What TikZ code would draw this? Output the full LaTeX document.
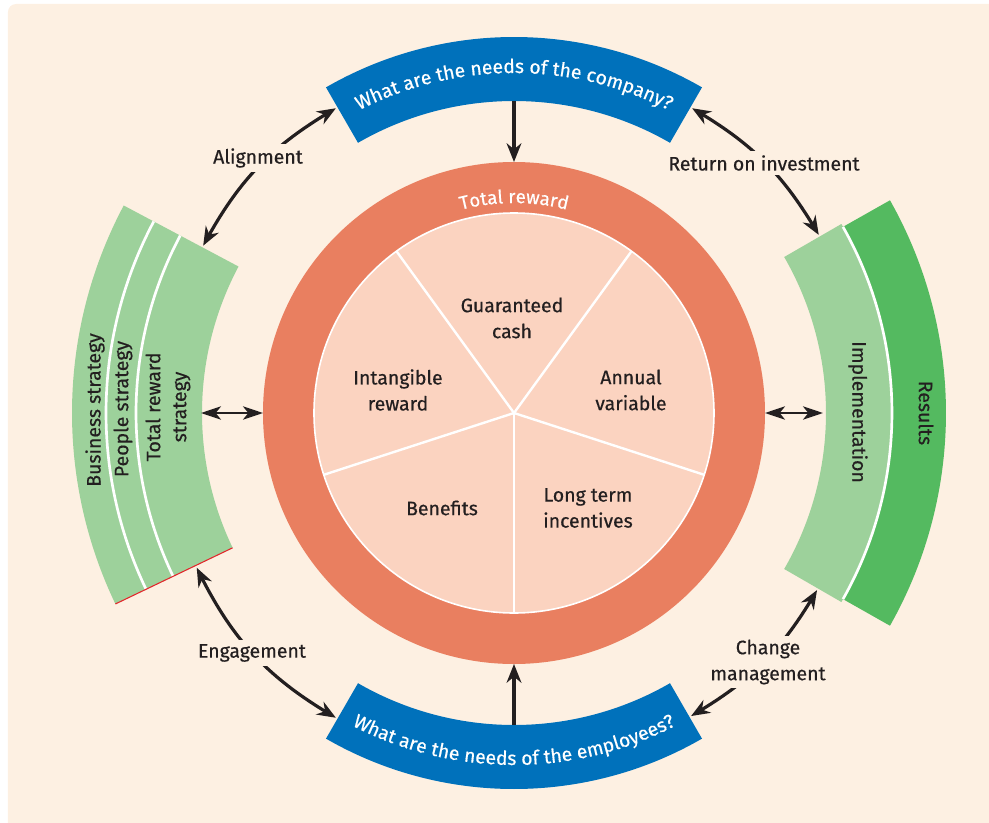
\documentclass[tikz,border=0pt]{standalone}
\usepackage{fontspec}
\setmainfont{Fira Sans}[FakeBold=0.5]
\usetikzlibrary{arrows.meta,bending,decorations.text}
\definecolor{paper}{HTML}{FDF0E2}
\definecolor{ringorange}{HTML}{E97F60}
\definecolor{piefill}{HTML}{FBD3C0}
\definecolor{bannerblue}{HTML}{0071BB}
\definecolor{palegreen}{HTML}{9DD19B}
\definecolor{deepgreen}{HTML}{54BA60}
\definecolor{ink}{HTML}{231F20}
\definecolor{edgered}{HTML}{E3262B}
\newcommand\bannerfont{\fontsize{14.5}{16}\selectfont\color{white}}
\newcommand\ringfont{\fontsize{14}{16}\selectfont\color{white}}
\begin{document}
\begin{tikzpicture}[x=0.75pt,y=0.75pt,
  lbl/.style={font=\fontsize{14.6}{19.5}\selectfont, text=ink, align=center, inner sep=2pt},
  cutlbl/.style={lbl, fill=paper, inner sep=3pt},
  oneway/.style={draw=ink, line width=2.4pt, -{Stealth[length=14pt,width=11pt,inset=4.5pt]}},
  twoway/.style={draw=ink, line width=2.4pt, {Stealth[length=14pt,width=11pt,inset=4.5pt]}-{Stealth[length=14pt,width=11pt,inset=4.5pt]}},
  sidelink/.style={draw=ink, line width=1.8pt, {Stealth[length=15pt,width=10pt,inset=4pt]}-{Stealth[length=15pt,width=10pt,inset=4pt]}},
  sep/.style={white, line width=2pt}
]
% page and backdrop
\useasboundingbox (-514,-409) rectangle (475,413);
\clip (-514,-409) rectangle (475,413);
\fill[paper, rounded corners=6pt] (-506,-440) rectangle (510,409);

% total reward ring and pie
\fill[ringorange] (0,0) circle[radius=251];
\fill[piefill] (0,0) circle[radius=200];
\draw[white, line width=1.2pt] (0,0) circle[radius=200];
\foreach \a in {54,126,198,270,342}
  \draw[white, line width=1.8pt] (0,0) -- (\a:200);
\path[decorate, decoration={text along path, text align=center,
  text={|\ringfont|Total reward}}]
  (130:210) arc[start angle=130, end angle=50, radius=210];

% company / employee banners
\fill[bannerblue] (60:312) arc[start angle=60, end angle=120, radius=312]
  -- (120:376) arc[start angle=120, end angle=60, radius=376] -- cycle;
\fill[bannerblue] (240:312) arc[start angle=240, end angle=300, radius=312]
  -- (300:376) arc[start angle=300, end angle=240, radius=376] -- cycle;
\path[decorate, decoration={text along path, text align=center,
  text={|\bannerfont|What are the needs of the company?}}]
  (120:340) arc[start angle=120, end angle=60, radius=340];
\path[decorate, decoration={text along path, text align=center,
  text={|\bannerfont|What are the needs of the employees?}}]
  (240:352) arc[start angle=240, end angle=300, radius=352];

% strategy bands
\fill[palegreen] (152:312) arc[start angle=152, end angle=205.6, radius=312]
  -- (205.6:442) arc[start angle=205.6, end angle=152, radius=442] -- cycle;
\draw[sep] (152:378) arc[start angle=152, end angle=205.6, radius=378];
\draw[sep] (152:408) arc[start angle=152, end angle=205.6, radius=408];
\draw[edgered, line width=0.8pt] (205.6:312) -- (205.6:442);

% implementation / results bands
\fill[palegreen] (-30:312) arc[start angle=-30, end angle=30, radius=312]
  -- (30:378) arc[start angle=30, end angle=-30, radius=378] -- cycle;
\fill[deepgreen] (-29.5:378) arc[start angle=-29.5, end angle=29.5, radius=378]
  -- (29.5:432) arc[start angle=29.5, end angle=-29.5, radius=432] -- cycle;
\draw[sep] (-29.5:378) arc[start angle=-29.5, end angle=29.5, radius=378];

% band labels
\node[lbl, rotate=90] (bizstrat) at (-419,3) {Business strategy};
\node[lbl, rotate=90] (peoplestrat) at (-391,4) {People strategy};
\node[lbl, rotate=90] (trstrat) at (-346,6) {Total reward\\strategy};
\node[lbl, rotate=-90] (impl) at (344,1) {Implementation};
\node[lbl, rotate=-90] (results) at (412,0) {Results};

% pie labels
\node[lbl] (cash) at (-2,95) {Guaranteed\\cash};
\node[lbl] (annual) at (117,23) {Annual\\variable};
\node[lbl] (lti) at (74,-95) {Long term\\incentives};
\node[lbl] (benefits) at (-72,-95) {Benefits};
\node[lbl] (intangible) at (-116,23) {Intangible\\reward};

% anchor points on the shapes
\coordinate (topBannerIn) at (90:312);
\coordinate (ringTop) at (90:251);
\coordinate (botBannerIn) at (270:312);
\coordinate (ringBot) at (270:251);
\coordinate (leftBandIn) at (180:313);
\coordinate (ringLeft) at (180:251);
\coordinate (rightBandIn) at (0:309);
\coordinate (ringRight) at (0:251);
\coordinate (alA) at (120.3:353);
\coordinate (alB) at (151.7:353);
\coordinate (roA) at (30.3:353);
\coordinate (roB) at (59.7:353);
\coordinate (cmA) at (-59.7:351);
\coordinate (cmB) at (-30.3:351);
\coordinate (enA) at (206:353);
\coordinate (enB) at (239.7:353);

% connectors
\draw[oneway] (topBannerIn) -- (ringTop);
\draw[oneway] (botBannerIn) -- (ringBot);
\draw[sidelink] (leftBandIn) -- (ringLeft);
\draw[sidelink] (ringRight) -- (rightBandIn);
\draw[twoway] (alA) to[bend right=15.7] (alB);
\draw[twoway] (roA) to[bend right=14.7] (roB);
\draw[twoway] (cmA) to[bend right=14.7] (cmB);
\draw[twoway] (enA) to[bend right=16.85] (enB);

% connector labels
\node[cutlbl] (alignment) at (-256,255) {Alignment};
\node[cutlbl] (roi) at (250,250) {Return on investment};
\node[cutlbl] (change) at (254,-249) {Change\\management};
\node[cutlbl] (engagement) at (-262,-240) {Engagement};
\end{tikzpicture}
\end{document}
